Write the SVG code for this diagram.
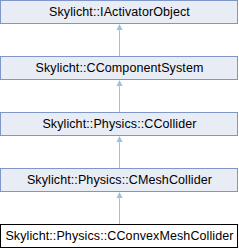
<svg xmlns="http://www.w3.org/2000/svg" width="239" height="248" viewBox="0 0 239 248">
<style>
.box{fill:#E8ECF5;stroke:#7F96CA;stroke-width:1}
.leaf{fill:#FFFFFF;stroke:#000000;stroke-width:1}
.lbl{font-family:"Liberation Sans",Arial,sans-serif;font-size:12.5px;letter-spacing:0.1px;fill:#000000;text-anchor:middle}
.edge{stroke:#95C5E6;stroke-width:1;fill:none}
.head{fill:#95C5E6;stroke:none}
</style>
<g id="connectors">
<line class="edge" x1="119.5" y1="29" x2="119.5" y2="56"/>
<polygon class="head" points="119.5,24 116.5,30 122.5,30"/>
<line class="edge" x1="119.5" y1="85" x2="119.5" y2="112"/>
<polygon class="head" points="119.5,80 116.5,86 122.5,86"/>
<line class="edge" x1="119.5" y1="141" x2="119.5" y2="168"/>
<polygon class="head" points="119.5,136 116.5,142 122.5,142"/>
<line class="edge" x1="119.5" y1="197" x2="119.5" y2="224"/>
<polygon class="head" points="119.5,192 116.5,198 122.5,198"/>
</g>
<g id="IActivatorObject">
<rect class="box" x="0.5" y="0.5" width="237" height="23"/>
<text class="lbl" x="119.5" y="16">Skylicht::IActivatorObject</text>
</g>
<g id="CComponentSystem">
<rect class="box" x="0.5" y="56.5" width="237" height="23"/>
<text class="lbl" x="119.5" y="72">Skylicht::CComponentSystem</text>
</g>
<g id="CCollider">
<rect class="box" x="0.5" y="112.5" width="237" height="23"/>
<text class="lbl" x="119.5" y="128">Skylicht::Physics::CCollider</text>
</g>
<g id="CMeshCollider">
<rect class="box" x="0.5" y="168.5" width="237" height="23"/>
<text class="lbl" x="119.5" y="184">Skylicht::Physics::CMeshCollider</text>
</g>
<g id="CConvexMeshCollider">
<rect class="leaf" x="0.5" y="224.5" width="237" height="23"/>
<text class="lbl" x="119.5" y="240">Skylicht::Physics::CConvexMeshCollider</text>
</g>
</svg>
